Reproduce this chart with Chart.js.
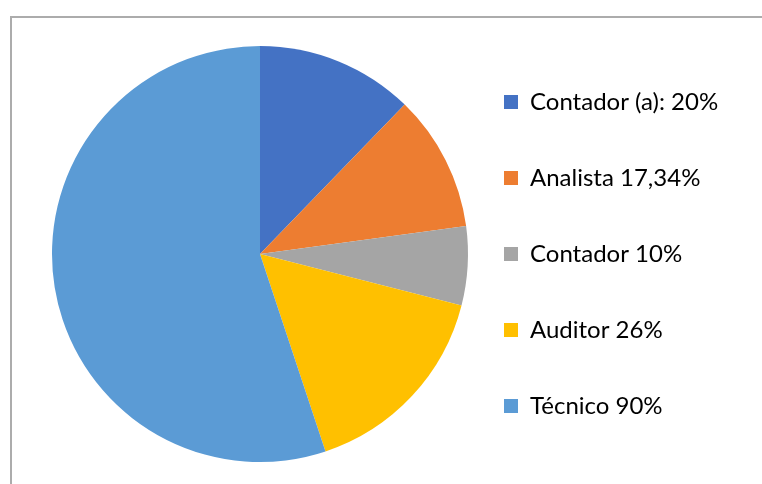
<!DOCTYPE html>
<html>
<head>
<meta charset="utf-8">
<script src="https://cdn.jsdelivr.net/npm/chart.js@4.4.1/dist/chart.umd.min.js"></script>
<style>
    html, body { margin: 0; padding: 0; background: #fff; }
    #wrap { position: relative; width: 762px; height: 484px; overflow: hidden; }
    #frame {
        position: absolute; left: 10px; top: 16px; width: 760px; height: 480px;
        border-left: 2px solid #acacac; border-top: 2px solid #acacac;
    }
    #pieChart { position: absolute; left: 0; top: 0; }
</style>
</head>
<body>
<div id="wrap">
    <div id="frame"></div>
    <canvas id="pieChart" width="762" height="484"></canvas>
</div>
<script>
    // Chart data
    const categories = ['Contador (a): 20%', 'Analista 17,34%', 'Contador 10%', 'Auditor 26%', 'Técnico 90%'];
    const values = [20, 17.34, 10, 26, 90];
    const colors = ['#4472C4', '#ED7D31', '#A5A5A5', '#FFC000', '#5B9BD5'];

    const FONT = { family: 'Lato, "Open Sans", sans-serif', size: 24 };
    const BOX = 14;
    const LEGEND_PAD = 52;

    // work out right padding so the legend boxes land at x = 504
    const mctx = document.createElement('canvas').getContext('2d');
    mctx.font = `${FONT.size}px ${FONT.family}`;
    const maxText = Math.max(...categories.map(c => mctx.measureText(c).width));
    const maxItemWidth = BOX + FONT.size / 2 + maxText;
    const legendLeft = 452;
    const padRight = Math.max(0, 762 - legendLeft - (LEGEND_PAD + maxItemWidth + 10));

    const ctx = document.getElementById('pieChart').getContext('2d');
    const pieChart = new Chart(ctx, {
        type: 'pie',
        data: {
            labels: categories,
            datasets: [{
                data: values,
                backgroundColor: colors,
                borderWidth: 0
            }]
        },
        options: {
            responsive: false,
            animation: false,
            radius: 208,
            layout: {
                padding: { left: 68, right: padRight, top: 24, bottom: 0 }
            },
            plugins: {
                legend: {
                    position: 'right',
                    labels: {
                        boxWidth: BOX,
                        boxHeight: BOX,
                        padding: LEGEND_PAD,
                        color: '#000',
                        font: FONT
                    }
                },
                tooltip: { enabled: false }
            }
        }
    });
</script>
</body>
</html>
